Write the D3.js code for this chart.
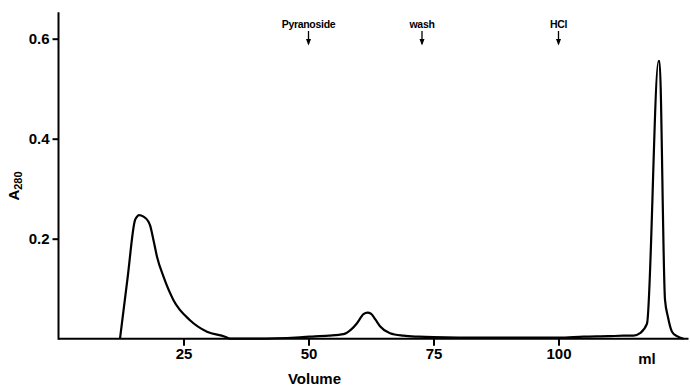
<!DOCTYPE html>
<html><head><meta charset="utf-8">
<script src="https://cdn.jsdelivr.net/npm/d3@7"></script>
<style>
body{margin:0;background:#fff;}
text{font-family:"Liberation Sans",Arial,sans-serif;font-weight:bold;fill:#000;}
</style></head>
<body><svg id="c" width="690" height="387"></svg>
<script>
// Data: elution profile (ml, A280)
const volume = [12.3,13.8,15.3,15.7,16.1,17.0,18.0,18.3,19.0,19.7,21.0,23.0,26.3,29.7,33.3,34.3,
  40,50.3,54,57.0,58.5,59.7,61.0,61.8,62.5,63.4,64.3,66.3,69,72,75,85,95,100,105,110,113,115.0,116.3,
  117.7,120.0,120.2,121.3,121.9,122.7,123.7,125.0];
const absorbance = [0,0.12,0.237,0.244,0.247,0.244,0.234,0.227,0.197,0.164,0.124,0.077,0.037,0.014,0.004,0,
  0,0.004,0.006,0.009,0.018,0.031,0.049,0.052,0.050,0.038,0.025,0.011,0.006,0.004,0.003,0.002,0.002,0.002,0.004,0.005,0.006,0.006,0.011,
  0.03,0.555,0.555,0.078,0.043,0.014,0.005,0];
const xTicks = [25,50,75,100];
const yTicks = [0.2,0.4,0.6];
const markers = ["Pyranoside","wash","HCl"];
const markerAt = [50,72.7,100];

const svg = d3.select("#c");
const x = d3.scaleLinear().domain([0,126]).range([58.5,688.5]);
const y = d3.scaleLinear().domain([0,0.6]).range([338.7,38.7]);

// axes
const xAxis = d3.axisBottom(x).tickValues(xTicks).tickSize(7).tickSizeOuter(0).tickFormat(d3.format("d"));
const gx = svg.append("g").attr("transform",`translate(0,${y(0)})`).call(xAxis);
gx.select(".domain").attr("stroke","#000").attr("stroke-width",2).attr("d",`M${x(0)},0H${x(126)}`);
gx.selectAll(".tick line").attr("stroke","#000").attr("stroke-width",2);
gx.selectAll(".tick text").attr("font-size",15).attr("dy","0.95em").attr("y",6);

const yAxis = d3.axisLeft(y).tickValues(yTicks).tickSize(6).tickSizeOuter(0).tickFormat(d3.format(".1f"));
const gy = svg.append("g").attr("transform",`translate(${x(0)},0)`).call(yAxis);
gy.select(".domain").attr("stroke","#000").attr("stroke-width",2).attr("d",`M0,${y(0)+1}V${y(0.653)}`);
gy.selectAll(".tick line").attr("stroke","#000").attr("stroke-width",2);
gy.selectAll(".tick text").attr("font-size",15).attr("x",-9);

svg.append("text").attr("x",x(117.7)).attr("y",y(0)+25).attr("text-anchor","middle").attr("font-size",15).text("ml");
svg.append("text").attr("x",x(51.2)).attr("y",384).attr("text-anchor","middle").attr("font-size",15).text("Volume");
const yl = svg.append("text").attr("transform","translate(19,186) rotate(-90)").attr("text-anchor","middle").attr("font-size",15);
yl.append("tspan").text("A");
yl.append("tspan").attr("font-size",11).attr("dy",3).text("280");

// markers
markers.forEach((m,i)=>{
  const mx = x(markerAt[i]);
  svg.append("text").attr("x",mx).attr("y",28).attr("text-anchor","middle").attr("font-size",10.5).attr("letter-spacing","-0.3").text(m);
  svg.append("line").attr("x1",mx).attr("x2",mx).attr("y1",31).attr("y2",44).attr("stroke","#000").attr("stroke-width",1.3);
  svg.append("path").attr("d",`M${mx-2.5},39L${mx},45.5L${mx+2.5},39Z`).attr("fill","#000");
});

// curve
const pts = volume.map((v,i)=>[v,absorbance[i]]);
const line = d3.line().x(d=>x(d[0])).y(d=>y(d[1])).curve(d3.curveMonotoneX);
svg.append("path").datum(pts).attr("d",line).attr("fill","none").attr("stroke","#000").attr("stroke-width",2.2).attr("stroke-linejoin","round");
</script></body></html>
